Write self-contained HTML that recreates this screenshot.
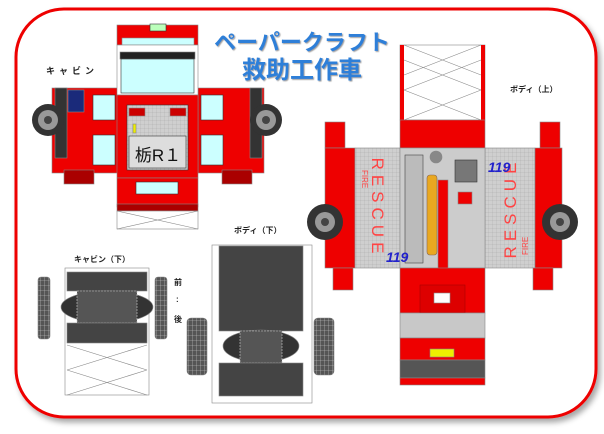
<!DOCTYPE html>
<html><head><meta charset="utf-8"><style>
html,body{margin:0;padding:0;background:#fff;width:604px;height:434px;overflow:hidden}
svg{display:block}
text{font-family:"Liberation Sans","Noto Sans CJK JP",sans-serif}
</style></head><body>
<svg width="604" height="434" viewBox="0 0 604 434" xmlns="http://www.w3.org/2000/svg">
<defs>
<filter id="sh" x="-5%" y="-5%" width="110%" height="110%"><feDropShadow dx="3" dy="4" stdDeviation="3" flood-color="#000" flood-opacity="0.35"/></filter>
<filter id="ts"><feDropShadow dx="1" dy="1" stdDeviation="0.6" flood-color="#555" flood-opacity="0.6"/></filter>
<pattern id="grid" width="4" height="4" patternUnits="userSpaceOnUse"><rect width="4" height="4" fill="#cfcfcf"/><path d="M0 0H4M0 0V4" stroke="#aaa" stroke-width="0.5"/></pattern>
<pattern id="tread" width="4" height="5" patternUnits="userSpaceOnUse"><rect width="4" height="5" fill="#555"/><path d="M0 0H4M0 0V5" stroke="#ccc" stroke-width="0.6"/></pattern>
</defs>
<rect x="16" y="9" width="580" height="408" rx="48" fill="#fff" stroke="#e00" stroke-width="3" filter="url(#sh)"/>

<text x="302" y="50" text-anchor="middle" font-size="22" font-weight="bold" fill="#2f7fd8" filter="url(#ts)">ペーパークラフト</text>
<text x="302" y="78" text-anchor="middle" font-size="24" font-weight="bold" fill="#2f7fd8" filter="url(#ts)">救助工作車</text>

<text x="46" y="74" font-size="9" font-weight="bold" fill="#222" letter-spacing="4">キャビン</text>
<text x="510" y="92" font-size="8" font-weight="bold" fill="#222">ボディ（上）</text>
<text x="74" y="262" font-size="8" font-weight="bold" fill="#222">キャビン（下）</text>
<text x="234" y="233" font-size="8" font-weight="bold" fill="#222">ボディ（下）</text>
<text x="174" y="285" font-size="8" font-weight="bold" fill="#222">前</text>
<text x="176" y="302" font-size="8" font-weight="bold" fill="#222">:</text>
<text x="174" y="322" font-size="8" font-weight="bold" fill="#222">後</text>

<!-- Cabin -->
<g stroke="#888" stroke-width="0.6">
<rect x="52" y="88" width="66" height="85" fill="#e00"/>
<rect x="64" y="170" width="30" height="14" fill="#a00"/>
<rect x="55" y="88" width="12" height="70" fill="#333"/>
<rect x="68" y="90" width="16" height="22" fill="#1a2a7a"/>
<rect x="93" y="95" width="22" height="25" fill="#cff" stroke="#333"/>
<rect x="93" y="135" width="22" height="30" fill="#cff" stroke="#333"/>
<rect x="198" y="88" width="66" height="85" fill="#e00"/>
<rect x="222" y="170" width="30" height="14" fill="#a00"/>
<rect x="250" y="88" width="12" height="70" fill="#333"/>
<rect x="201" y="95" width="22" height="25" fill="#cff" stroke="#333"/>
<rect x="201" y="135" width="22" height="30" fill="#cff" stroke="#333"/>
<rect x="117" y="25" width="81" height="20" fill="#e00"/>
<rect x="150" y="24" width="16" height="7" fill="#bfb" stroke="#333"/>
<rect x="122" y="38" width="72" height="7" fill="#cff"/>
<rect x="117" y="45" width="81" height="50" fill="#fff"/>
<rect x="120" y="52" width="75" height="7" fill="#222"/>
<rect x="121" y="59" width="73" height="34" fill="#cff" stroke="#333"/>
<rect x="117" y="95" width="81" height="83" fill="#e00"/>
<rect x="127" y="105" width="61" height="65" fill="url(#grid)" stroke="#333"/>
<rect x="129" y="108" width="16" height="8" fill="#c00"/>
<rect x="170" y="108" width="16" height="8" fill="#c00"/>
<rect x="133" y="124" width="3" height="9" fill="#ee0"/>
<rect x="129" y="136" width="57" height="32" fill="#ddd" stroke="#333"/>
<rect x="117" y="178" width="81" height="29" fill="#e00"/>
<rect x="136" y="182" width="42" height="12" fill="#cff" stroke="#333"/>
<rect x="117" y="204" width="81" height="7" fill="#a00"/>
<rect x="117" y="211" width="81" height="18" fill="#fff"/>
<path d="M117 211L198 229M198 211L117 229" fill="none"/>
</g>
<text x="158" y="161" text-anchor="middle" font-size="17" fill="#111">栃R１</text>
<g>
<circle cx="48" cy="120" r="16" fill="#333"/><circle cx="48" cy="120" r="10" fill="#999"/><circle cx="48" cy="120" r="4" fill="#444"/>
<circle cx="266" cy="120" r="16" fill="#333"/><circle cx="266" cy="120" r="10" fill="#999"/><circle cx="266" cy="120" r="4" fill="#444"/>
</g>

<!-- Body top -->
<g stroke="#888" stroke-width="0.6">
<rect x="400" y="45" width="85" height="75" fill="#fff"/>
<rect x="400" y="45" width="4" height="75" fill="#e00" stroke="none"/>
<rect x="481" y="45" width="4" height="75" fill="#e00" stroke="none"/>
<path d="M404 45L481 75M481 45L404 75M404 60L481 90M481 60L404 90M404 90L481 120M481 90L404 120" fill="none"/>
<rect x="400" y="120" width="85" height="28" fill="#e00"/>
<rect x="325" y="122" width="20" height="26" fill="#e00"/>
<rect x="540" y="122" width="20" height="26" fill="#e00"/>
<rect x="325" y="148" width="30" height="120" fill="#e00"/>
<rect x="355" y="148" width="45" height="120" fill="url(#grid)"/>
<rect x="485" y="148" width="50" height="120" fill="url(#grid)"/>
<rect x="535" y="148" width="27" height="120" fill="#e00"/>
<rect x="333" y="268" width="20" height="22" fill="#e00"/>
<rect x="533" y="268" width="20" height="22" fill="#e00"/>
<rect x="400" y="148" width="85" height="120" fill="#ccc"/>
<rect x="405" y="155" width="18" height="108" fill="#bbb" stroke="#444"/>
<rect x="427" y="175" width="10" height="80" rx="3" fill="#e9a820" stroke="#865"/>
<rect x="438" y="180" width="10" height="130" fill="#e00"/>
<rect x="455" y="160" width="22" height="22" fill="#777" stroke="#333"/>
<rect x="458" y="192" width="14" height="12" fill="#e00"/>
<circle cx="436" cy="157" r="6" fill="#888"/>
<rect x="400" y="268" width="85" height="45" fill="#e00"/>
<rect x="420" y="285" width="45" height="28" fill="#d00" stroke="#a00"/>
<rect x="434" y="293" width="16" height="10" fill="#fff"/>
<rect x="400" y="313" width="85" height="25" fill="#c8c8c8"/>
<rect x="400" y="338" width="85" height="22" fill="#e00"/>
<rect x="430" y="349" width="24" height="8" fill="#ee0"/>
<rect x="400" y="360" width="85" height="18" fill="#555"/>
<rect x="400" y="378" width="85" height="7" fill="#e00"/>
</g>
<g fill="#f44" font-family="Liberation Serif,serif">
<text x="378" y="208" font-size="17" text-anchor="middle" letter-spacing="5" transform="rotate(90 378 208)" dy="6">RESCUE</text>
<text x="362" y="170" font-size="8" transform="rotate(90 362 170)">FIRE</text>
<text x="510" y="208" font-size="17" text-anchor="middle" letter-spacing="5" transform="rotate(-90 510 208)" dy="6">RESCUE</text>
<text x="528" y="255" font-size="8" transform="rotate(-90 528 255)">FIRE</text>
</g>
<text x="386" y="262" font-size="14" font-style="italic" font-weight="bold" fill="#22c">119</text>
<text x="488" y="172" font-size="14" font-style="italic" font-weight="bold" fill="#22c">119</text>
<circle cx="325" cy="222" r="18" fill="#333"/><circle cx="325" cy="222" r="10" fill="#999"/><circle cx="325" cy="222" r="4" fill="#444"/>
<circle cx="560" cy="222" r="18" fill="#333"/><circle cx="560" cy="222" r="10" fill="#999"/><circle cx="560" cy="222" r="4" fill="#444"/>

<!-- Cabin bottom -->
<g stroke="#888" stroke-width="0.6">
<rect x="38" y="277" width="12" height="62" rx="3" fill="url(#tread)"/>
<rect x="155" y="277" width="12" height="62" rx="3" fill="url(#tread)"/>
<rect x="65" y="268" width="84" height="127" fill="#fff"/>
<rect x="67" y="272" width="80" height="19" fill="#444"/>
<ellipse cx="107" cy="307" rx="46" ry="16" fill="#333"/>
<rect x="77" y="291" width="60" height="32" fill="#555" stroke="#ccc" stroke-dasharray="2 1"/>
<rect x="67" y="323" width="80" height="20" fill="#444"/>
<path d="M67 345L147 370M147 345L67 370M67 370L147 395M147 370L67 395" fill="none"/>
</g>

<!-- Body bottom -->
<g stroke="#888" stroke-width="0.6">
<rect x="187" y="318" width="20" height="57" rx="4" fill="url(#tread)"/>
<rect x="314" y="318" width="20" height="57" rx="4" fill="url(#tread)"/>
<rect x="212" y="245" width="100" height="158" fill="#fff"/>
<rect x="219" y="246" width="84" height="85" fill="#444"/>
<ellipse cx="261" cy="346" rx="38" ry="16" fill="#333"/>
<rect x="240" y="331" width="42" height="32" fill="#555" stroke="#ccc" stroke-dasharray="2 1"/>
<rect x="219" y="363" width="84" height="33" fill="#444"/>
</g>
</svg>
</body></html>
